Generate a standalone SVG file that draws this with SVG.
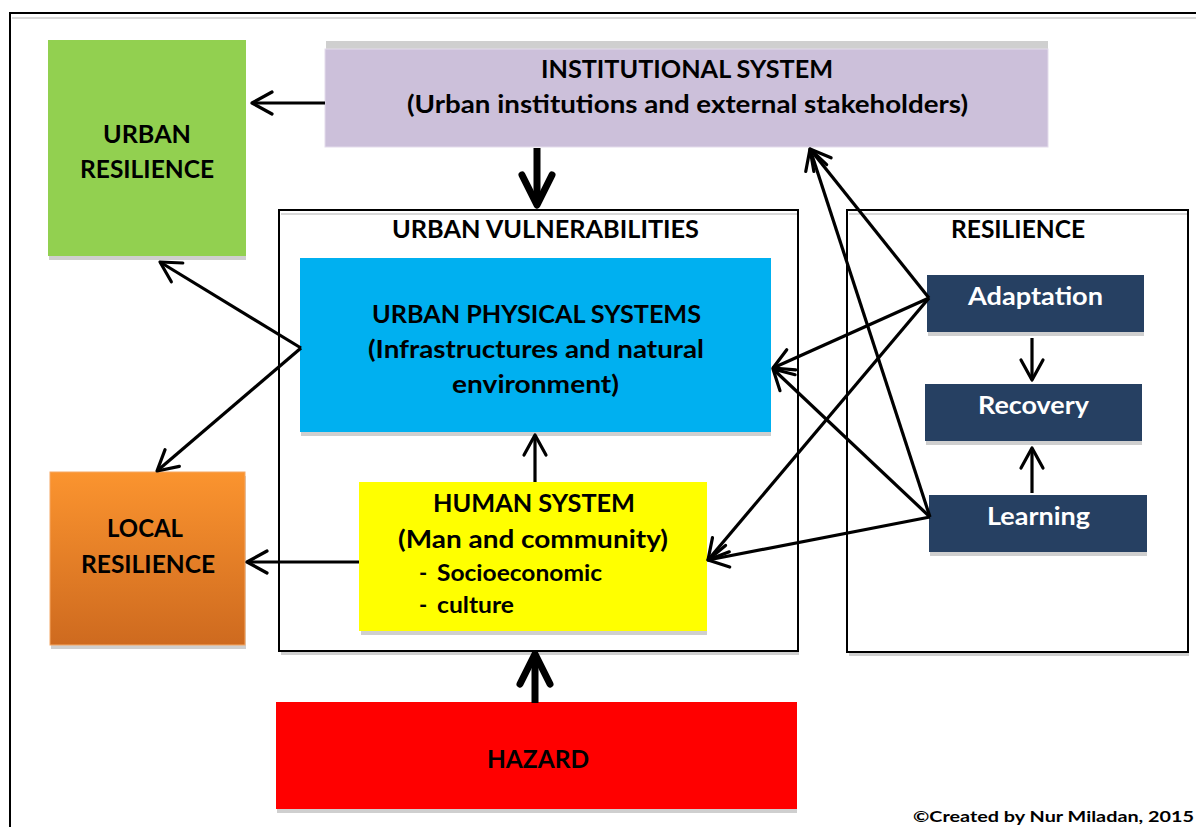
<svg xmlns="http://www.w3.org/2000/svg" width="1196" height="827" viewBox="0 0 1196 827">
<style>
.t{font-family:Lato,"Liberation Sans",Arial,sans-serif;font-weight:bold;fill:#000;text-anchor:middle;font-size:24px}
.w{fill:#fff}
.s{font-size:22px;text-anchor:start}
.frame{fill:none;stroke:#000;stroke-width:2}
.sh{fill:#cfcfcf}
.thin{fill:none;stroke:#000;stroke-width:3.2;stroke-linecap:butt}
.thick{fill:none;stroke:#000;stroke-width:7}
.navy{fill:#264062}
</style>
<defs>
<marker id="ah" markerUnits="userSpaceOnUse" markerWidth="30" markerHeight="30" viewBox="0 0 30 30" refX="24" refY="15" orient="auto">
<path d="M4,4 L24,15 L4,26" fill="none" stroke="#000" stroke-width="3.2" stroke-linecap="round" stroke-linejoin="round"/>
</marker>
<marker id="ahb" markerUnits="userSpaceOnUse" markerWidth="44" markerHeight="44" viewBox="0 0 44 44" refX="36" refY="22" orient="auto">
<path d="M6,7 L36,22 L6,37" fill="none" stroke="#000" stroke-width="7" stroke-linecap="round" stroke-linejoin="round"/>
</marker>
<linearGradient id="og" x1="0" y1="0" x2="0" y2="1">
<stop offset="0" stop-color="#FB942F"/>
<stop offset="1" stop-color="#CE6A1F"/>
</linearGradient>
</defs>

<g id="frame">
<rect x="10" y="13" width="1200" height="830" class="frame"/>
<line x1="12" y1="18" x2="1196" y2="18" stroke="#d8d8d8" stroke-width="2"/>
</g>

<g id="urban-vulnerabilities">
<rect x="281" y="652" width="518" height="3" class="sh"/>
<rect x="279" y="210" width="519" height="441" class="frame" fill="#fff"/>
<line x1="281" y1="214" x2="797" y2="214" stroke="#d8d8d8" stroke-width="2"/>
<text class="t" x="545.5" y="238" textLength="307" lengthAdjust="spacingAndGlyphs">URBAN VULNERABILITIES</text>
</g>

<g id="resilience">
<rect x="849" y="653" width="340" height="3" class="sh"/>
<rect x="847" y="210" width="341" height="442" class="frame" fill="#fff"/>
<line x1="849" y1="214" x2="1187" y2="214" stroke="#d8d8d8" stroke-width="2"/>
<text class="t" x="1018" y="238" textLength="134" lengthAdjust="spacingAndGlyphs">RESILIENCE</text>
</g>

<g id="urban-resilience">
<rect x="49" y="44" width="197" height="216" class="sh"/>
<rect x="48" y="40" width="198" height="216" fill="#92D050"/>
<text class="t" x="147" y="143" textLength="88" lengthAdjust="spacingAndGlyphs">URBAN</text>
<text class="t" x="147" y="178" textLength="134" lengthAdjust="spacingAndGlyphs">RESILIENCE</text>
</g>

<g id="institutional-system">
<rect x="326" y="41" width="722" height="100" class="sh"/>
<rect x="325" y="49" width="723" height="98" fill="#CCC0DA" stroke="#e4dcec" stroke-width="1"/>
<text class="t" x="687" y="78" textLength="292" lengthAdjust="spacingAndGlyphs">INSTITUTIONAL SYSTEM</text>
<text class="t" x="687.5" y="113" textLength="561" lengthAdjust="spacingAndGlyphs">(Urban institutions and external stakeholders)</text>
</g>

<g id="urban-physical-systems">
<rect x="301" y="262" width="470" height="174" class="sh"/>
<rect x="300" y="258" width="471" height="174" fill="#00B0F0"/>
<text class="t" x="536.5" y="323" textLength="329" lengthAdjust="spacingAndGlyphs">URBAN PHYSICAL SYSTEMS</text>
<text class="t" x="536" y="358" textLength="336" lengthAdjust="spacingAndGlyphs">(Infrastructures and natural</text>
<text class="t" x="535.5" y="393" textLength="167" lengthAdjust="spacingAndGlyphs">environment)</text>
</g>

<g id="human-system">
<rect x="361" y="486" width="346" height="149" class="sh"/>
<rect x="359" y="482" width="348" height="149" fill="#FFFF00"/>
<text class="t" x="534" y="512" textLength="202" lengthAdjust="spacingAndGlyphs">HUMAN SYSTEM</text>
<text class="t" x="533" y="548" textLength="270" lengthAdjust="spacingAndGlyphs">(Man and community)</text>
<text class="t s" x="419" y="581">-</text>
<text class="t s" x="437" y="581" textLength="165" lengthAdjust="spacingAndGlyphs">Socioeconomic</text>
<text class="t s" x="419" y="613">-</text>
<text class="t s" x="437" y="613" textLength="77" lengthAdjust="spacingAndGlyphs">culture</text>
</g>

<g id="local-resilience">
<rect x="51" y="476" width="195" height="173" class="sh"/>
<rect x="50" y="472" width="195" height="173" fill="url(#og)" stroke="#F6A864" stroke-width="1"/>
<text class="t" x="145" y="537" textLength="76" lengthAdjust="spacingAndGlyphs">LOCAL</text>
<text class="t" x="148" y="573" textLength="134" lengthAdjust="spacingAndGlyphs">RESILIENCE</text>
</g>

<g id="adaptation">
<rect x="928" y="279" width="216" height="57" class="sh"/>
<rect x="927" y="275" width="217" height="57" class="navy"/>
<text class="t w" x="1035.5" y="305" textLength="135" lengthAdjust="spacingAndGlyphs">Adaptation</text>
</g>

<g id="recovery">
<rect x="926" y="388" width="216" height="57" class="sh"/>
<rect x="925" y="384" width="217" height="57" class="navy"/>
<text class="t w" x="1033.5" y="414" textLength="111" lengthAdjust="spacingAndGlyphs">Recovery</text>
</g>

<g id="learning">
<rect x="930" y="499" width="217" height="57" class="sh"/>
<rect x="929" y="495" width="218" height="57" class="navy"/>
<text class="t w" x="1038.5" y="525" textLength="103" lengthAdjust="spacingAndGlyphs">Learning</text>
</g>

<g id="hazard">
<rect x="277" y="706" width="520" height="107" class="sh"/>
<rect x="276" y="702" width="521" height="107" fill="#FF0000"/>
<text class="t" x="538" y="768" textLength="102" lengthAdjust="spacingAndGlyphs">HAZARD</text>
</g>

<g id="connectors">
<line class="thin" x1="325" y1="103" x2="252" y2="103" marker-end="url(#ah)"/>
<line class="thick" x1="537" y1="148" x2="537" y2="205" marker-end="url(#ahb)"/>
<line class="thin" x1="301" y1="348" x2="160" y2="262" marker-end="url(#ah)"/>
<line class="thin" x1="301" y1="348" x2="157" y2="471" marker-end="url(#ah)"/>
<line class="thin" x1="535" y1="482" x2="535" y2="435" marker-end="url(#ah)"/>
<line class="thin" x1="359" y1="562" x2="247" y2="562" marker-end="url(#ah)"/>
<line class="thick" x1="535" y1="703" x2="535" y2="654" marker-end="url(#ahb)"/>
<line class="thin" x1="1032" y1="338" x2="1032" y2="380" marker-end="url(#ah)"/>
<line class="thin" x1="1032" y1="493" x2="1032" y2="448" marker-end="url(#ah)"/>
<line class="thin" x1="929" y1="298" x2="810" y2="149" marker-end="url(#ah)"/>
<line class="thin" x1="929" y1="298" x2="773" y2="368" marker-end="url(#ah)"/>
<line class="thin" x1="929" y1="298" x2="708" y2="560" marker-end="url(#ah)"/>
<line class="thin" x1="930" y1="517" x2="810" y2="149" marker-end="url(#ah)"/>
<line class="thin" x1="930" y1="517" x2="773" y2="369" marker-end="url(#ah)"/>
<line class="thin" x1="930" y1="517" x2="708" y2="560" marker-end="url(#ah)"/>
</g>

<text class="t" x="913" y="822" style="text-anchor:start;font-size:16px" textLength="281" lengthAdjust="spacingAndGlyphs">©Created by Nur Miladan, 2015</text>
</svg>
